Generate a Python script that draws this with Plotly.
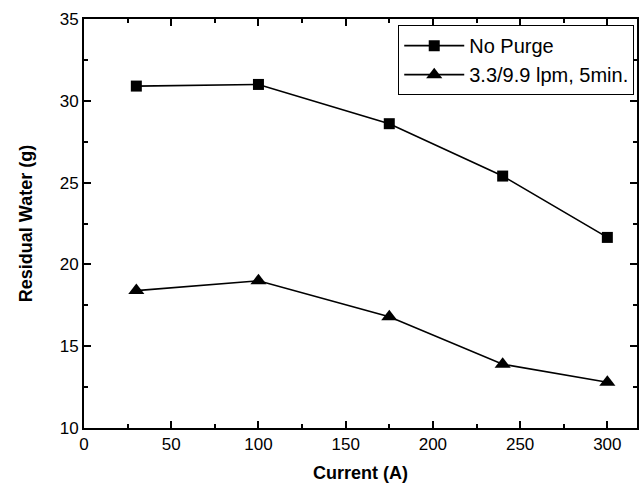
import plotly.graph_objects as go

current = [30, 100, 175, 240, 300]
no_purge = [30.9, 31.0, 28.6, 25.4, 21.65]
purge = [18.4, 19.0, 16.8, 13.9, 12.8]
names = ["No Purge", "3.3/9.9 lpm, 5min."]

fig = go.Figure()
fig.add_trace(go.Scatter(x=current, y=no_purge, mode="lines+markers", name=names[0],
                         line=dict(color="black", width=1.6),
                         marker=dict(symbol="square", size=11, color="black")))
fig.add_trace(go.Scatter(x=current, y=purge, mode="lines+markers", name=names[1],
                         line=dict(color="black", width=1.6),
                         marker=dict(symbol="triangle-up", size=14, color="black")))

font = "Liberation Sans, Arial, sans-serif"
axis_common = dict(showline=True, linecolor="black", linewidth=2, mirror="ticks",
                   ticks="inside", ticklen=7, tickwidth=2, tickcolor="black",
                   showgrid=False, zeroline=False,
                   tickfont=dict(family=font, size=17, color="black"))
fig.update_layout(
    width=643, height=485,
    margin=dict(l=84, r=4, t=19, b=57),
    paper_bgcolor="white", plot_bgcolor="white",
    font=dict(family=font, color="black"),
    xaxis=dict(range=[0, 317], dtick=50, tick0=0,
               minor=dict(ticks="inside", dtick=25, ticklen=4, tickwidth=2, tickcolor="black"),
               title=dict(text="<b>Current (A)</b>", font=dict(family=font, size=18), standoff=13),
               **axis_common),
    yaxis=dict(range=[10, 35], dtick=5, tick0=10,
               minor=dict(ticks="inside", dtick=2.5, ticklen=4, tickwidth=2, tickcolor="black"),
               title=dict(text="<b>Residual Water (g)</b>", font=dict(family=font, size=18), standoff=22),
               **axis_common),
    legend=dict(x=0.995, y=0.985, xanchor="right", yanchor="top",
                bgcolor="white", bordercolor="black", borderwidth=1,
                font=dict(family=font, size=20, color="black"),
                tracegroupgap=0, itemwidth=60),
    showlegend=True,
)
fig.write_html("out.html")
